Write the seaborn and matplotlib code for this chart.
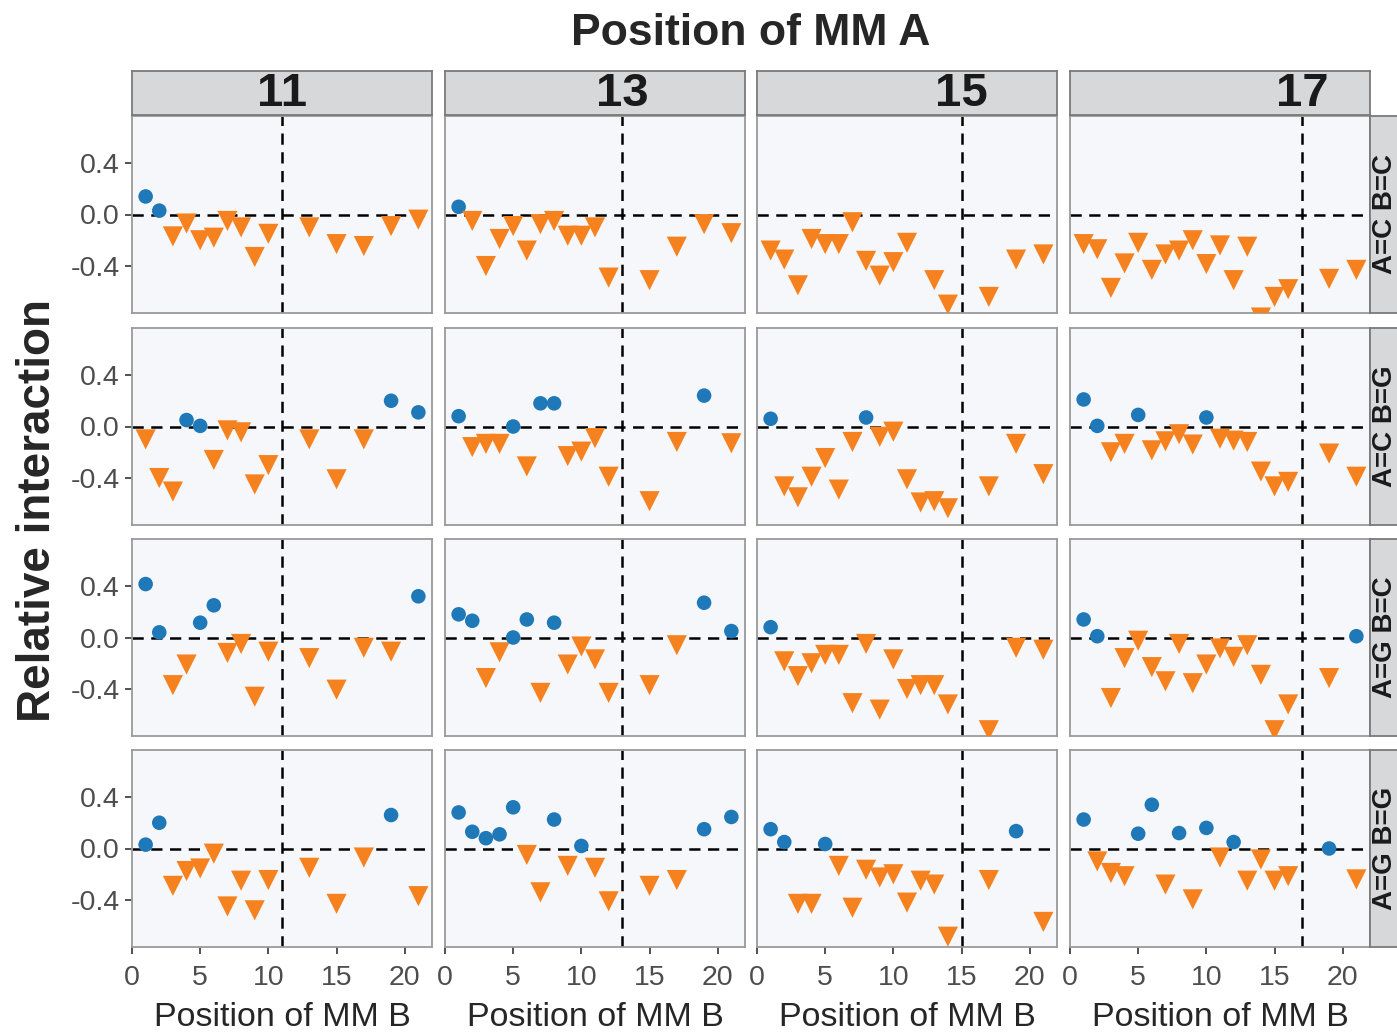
import numpy as np
import pandas as pd
import matplotlib
matplotlib.use("Agg")
import matplotlib.pyplot as plt
import seaborn as sns
from matplotlib.ticker import FormatStrFormatter

# Facet levels
POS_A = [11, 13, 15, 17]
PAIRS = ["A=C B=C", "A=C B=G", "A=G B=C", "A=G B=G"]

# Positions of MM B measured for each position of MM A
POS_B = {
    11: [1, 2, 3, 4, 5, 6, 7, 8, 9, 10, 13, 15, 17, 19, 21],
    13: [1, 2, 3, 4, 5, 6, 7, 8, 9, 10, 11, 12, 15, 17, 19, 21],
    15: [1, 2, 3, 4, 5, 6, 7, 8, 9, 10, 11, 12, 13, 14, 17, 19, 21],
    17: [1, 2, 3, 4, 5, 6, 7, 8, 9, 10, 11, 12, 13, 14, 15, 16, 19, 21],
}

# Relative interaction (NaN = not shown)
Y_CC_11 = [0.14, 0.03, -0.17, -0.07, -0.20, -0.18, -0.05, -0.10, -0.33, -0.15, -0.10, -0.23, -0.245, -0.09, -0.04]
Y_CC_13 = [0.06, -0.05, -0.40, -0.19, -0.09, -0.28, -0.075, -0.05, -0.165, -0.165, -0.10, -0.49, -0.51, -0.25, -0.075, -0.145]
Y_CC_15 = [-0.28, -0.35, -0.55, -0.19, -0.23, -0.23, -0.06, -0.36, -0.475, -0.37, -0.22, np.nan, -0.51, -0.70, -0.64, -0.35, -0.31]
Y_CC_17 = [-0.23, -0.27, -0.57, -0.38, -0.22, -0.43, -0.31, -0.28, -0.20, -0.385, -0.24, -0.51, -0.25, -0.80, -0.64, -0.58, -0.50, -0.43]

Y_CG_11 = [-0.10, -0.40, -0.505, 0.05, 0.005, -0.26, -0.03, -0.045, -0.45, -0.30, -0.10, -0.41, -0.10, 0.20, 0.11]
Y_CG_13 = [0.08, -0.16, -0.135, -0.135, 0.0, -0.31, 0.18, 0.18, -0.23, -0.195, -0.09, -0.39, -0.58, -0.12, 0.24, -0.13]
Y_CG_15 = [0.06, -0.465, -0.55, -0.39, -0.245, -0.49, -0.12, 0.07, -0.08, -0.04, -0.41, -0.59, -0.58, -0.635, -0.465, -0.135, -0.37]
Y_CG_17 = [0.21, 0.005, -0.20, -0.135, 0.09, -0.185, -0.115, -0.06, -0.14, 0.07, -0.095, -0.11, -0.12, -0.35, -0.465, -0.43, -0.21, -0.39]

Y_GC_11 = [0.415, 0.04, -0.37, -0.21, 0.115, 0.25, -0.12, -0.05, -0.46, -0.11, -0.16, -0.405, -0.08, -0.11, 0.32]
Y_GC_13 = [0.18, 0.13, -0.315, -0.115, 0.0, 0.14, -0.43, 0.115, -0.21, -0.07, -0.17, -0.43, -0.37, -0.06, 0.27, 0.05]
Y_GC_15 = [0.08, -0.185, -0.30, -0.20, -0.135, -0.135, -0.51, -0.05, -0.56, -0.17, -0.40, -0.37, -0.37, -0.52, -0.72, -0.08, -0.095]
Y_GC_17 = [0.14, 0.01, -0.47, -0.16, -0.025, -0.23, -0.34, -0.05, -0.355, -0.21, -0.085, -0.15, -0.06, -0.29, -0.72, -0.52, -0.315, 0.01]

Y_GG_11 = [0.03, 0.20, -0.29, -0.175, -0.155, -0.04, -0.45, -0.25, -0.48, -0.245, -0.15, -0.43, -0.07, 0.26, -0.37]
Y_GG_13 = [0.28, 0.13, 0.08, 0.11, 0.32, -0.05, -0.34, 0.225, -0.135, 0.02, -0.15, -0.41, -0.29, -0.245, 0.15, 0.245]
Y_GG_15 = [0.15, 0.05, -0.43, -0.43, 0.035, -0.135, -0.46, -0.165, -0.225, -0.20, -0.42, -0.25, -0.28, -0.685, -0.245, 0.135, -0.57]
Y_GG_17 = [0.225, -0.10, -0.19, -0.215, 0.115, 0.34, -0.28, 0.12, -0.395, 0.16, -0.07, 0.05, -0.25, -0.085, -0.25, -0.215, 0.0, -0.24]

VALUES = {
    "A=C B=C": [Y_CC_11, Y_CC_13, Y_CC_15, Y_CC_17],
    "A=C B=G": [Y_CG_11, Y_CG_13, Y_CG_15, Y_CG_17],
    "A=G B=C": [Y_GC_11, Y_GC_13, Y_GC_15, Y_GC_17],
    "A=G B=G": [Y_GG_11, Y_GG_13, Y_GG_15, Y_GG_17],
}

BLUE = "#1f78b8"
ORANGE = "#f5821f"
W, H = 1397, 1032


def build_frame():
    rows = []
    for pair in PAIRS:
        for pos_a, vals in zip(POS_A, VALUES[pair]):
            for pos_b, v in zip(POS_B[pos_a], vals):
                if np.isnan(v):
                    continue
                rows.append((pair, pos_a, pos_b, v, "pos" if v >= 0 else "neg"))
    return pd.DataFrame(rows, columns=["pair", "pos_a", "pos_b", "value", "sign"])


def fig_rect(x0, y0, w, h):
    return [x0 / W, 1 - (y0 + h) / H, w / W, h / H]


sns.set_style("white")
plt.rcParams["font.family"] = ["Liberation Sans", "DejaVu Sans"]
plt.rcParams["axes.unicode_minus"] = False

df = build_frame()
fig = plt.figure(figsize=(W / 100, H / 100), dpi=100)

col_left = [132, 445, 757, 1070]
row_top = [116, 328, 539, 750]
pw, ph = 300, 197

for r, pair in enumerate(PAIRS):
    for c, pos_a in enumerate(POS_A):
        ax = fig.add_axes(fig_rect(col_left[c], row_top[r], pw, ph))
        ax.set_facecolor("#f5f7fa")
        sub = df[(df["pair"] == pair) & (df["pos_a"] == pos_a)]

        ax.axhline(0, color="black", lw=1.8, ls=(0, (4.5, 3)), zorder=1)
        ax.axvline(pos_a, color="black", lw=1.8, ls=(0, (4.5, 3)), zorder=1)
        sns.scatterplot(data=sub, x="pos_b", y="value", hue="sign", style="sign",
                        size="sign", palette={"pos": BLUE, "neg": ORANGE},
                        markers={"pos": "o", "neg": "v"}, sizes={"pos": 110, "neg": 210},
                        linewidth=0, legend=False, zorder=3, ax=ax)

        ax.set_xlim(0, 22)
        ax.set_ylim(-0.765, 0.765)
        ax.set_xticks([0, 5, 10, 15, 20])
        ax.set_yticks([-0.4, 0.0, 0.4])
        ax.yaxis.set_major_formatter(FormatStrFormatter("%.1f"))
        for s in ax.spines.values():
            s.set_color("#9a9a9a")
            s.set_linewidth(1.3)
        ax.tick_params(length=5, width=1.2, color="#333333", labelsize=20.5,
                       labelcolor="#4d4d4d", pad=4)
        ax.set_ylabel("")
        if c == 0:
            ax.tick_params(axis="y", left=True)
        else:
            ax.tick_params(axis="y", left=False, labelleft=False)
        if r == len(PAIRS) - 1:
            ax.tick_params(axis="x", bottom=True, pad=8)
            ax.set_xlabel("Position of MM B", fontsize=24.5, labelpad=8)
        else:
            ax.tick_params(axis="x", bottom=False, labelbottom=False)
            ax.set_xlabel("")

        # column strip on top, label sits at the MM A position
        if r == 0:
            sax = fig.add_axes(fig_rect(col_left[c], 71, pw, 44))
            sax.set_facecolor("#d7d8da")
            sax.set_xlim(0, 22)
            sax.set_xticks([])
            sax.set_yticks([])
            for s in sax.spines.values():
                s.set_color("#7a7a7a")
                s.set_linewidth(1.3)
            sax.text(pos_a, 0.47, str(pos_a), ha="center", va="center",
                     fontsize=34, fontweight="bold", color="#1a1a1a")

    # row strip on the right, running past the figure edge
    rax = fig.add_axes(fig_rect(1370, row_top[r], 44, ph))
    rax.set_facecolor("#d7d8da")
    rax.set_xticks([])
    rax.set_yticks([])
    for s in rax.spines.values():
        s.set_color("#7a7a7a")
        s.set_linewidth(1.3)
    rax.text(15 / 44, 0.5, pair, rotation=90, ha="center", va="center",
             fontsize=20, fontweight="bold", color="#1a1a1a", transform=rax.transAxes)

fig.text(751 / W, 1 - 33 / H, "Position of MM A", ha="center", va="center",
         fontsize=32, fontweight="bold")
fig.text(38 / W, 1 - 510 / H, "Relative interaction", ha="center", va="center",
         rotation=90, fontsize=33, fontweight="bold")

fig.savefig("out.png", dpi=100)
